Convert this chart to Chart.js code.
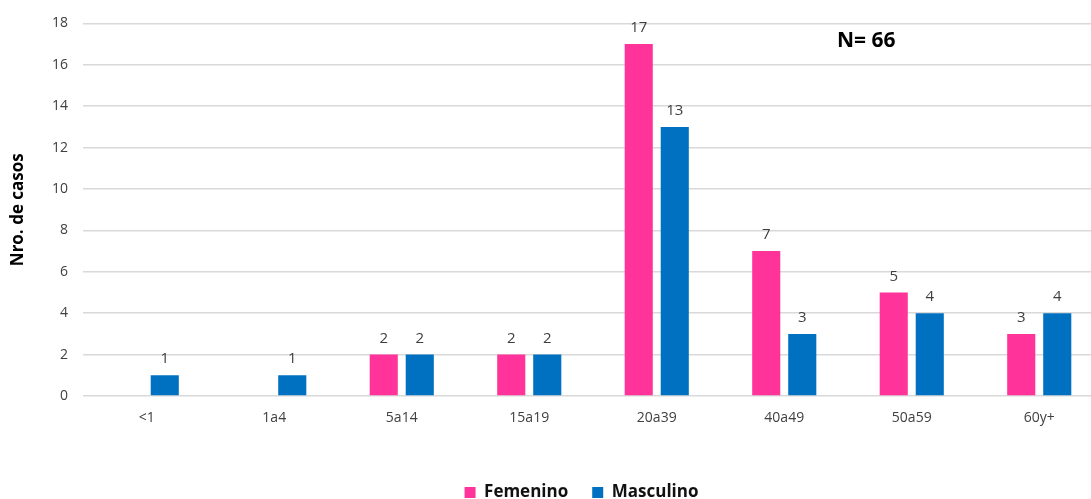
<!DOCTYPE html>
<html lang="es">
<head>
  <meta charset="UTF-8">
  <title>Casos por grupo de edad y sexo</title>
  <script src="https://cdn.jsdelivr.net/npm/chart.js"></script>
  <style>
    body { margin: 0; background: #fff; overflow: hidden; }
    #wrap { width: 1091px; height: 499px; overflow: hidden; }
  </style>
</head>
<body>
  <div id="wrap">
    <canvas id="chart" width="1162" height="499"></canvas>
  </div>
  <script>
    // datos
    const grupos = ['<1', '1a4', '5a14', '15a19', '20a39', '40a49', '50a59', '60y+'];
    const femenino = [0, 0, 2, 2, 17, 7, 5, 3];
    const masculino = [1, 1, 2, 2, 13, 3, 4, 4];
    const yTicks = [0, 2, 4, 6, 8, 10, 12, 14, 16, 18];
    const totalTexto = 'N= 66';

    const FONT = "'Open Sans', 'Noto Sans', sans-serif";

    // etiquetas de valor encima de cada barra + texto N
    const valueLabels = {
      id: 'valueLabels',
      afterLayout(chart) {
        // la leyenda del original esta centrada un poco mas a la derecha
        if (chart.legend) { chart.legend.left += 30; chart.legend.right += 30; }
      },
      afterDatasetsDraw(chart) {
        const ctx = chart.ctx;
        ctx.save();
        ctx.font = '15px ' + FONT;
        ctx.fillStyle = '#404040';
        ctx.textAlign = 'center';
        ctx.textBaseline = 'alphabetic';
        chart.data.datasets.forEach((ds, i) => {
          chart.getDatasetMeta(i).data.forEach((bar, j) => {
            if (!ds.data[j]) return;
            ctx.fillText(ds.data[j], bar.x, bar.y - 12);
          });
        });
        ctx.font = 'bold 21px ' + FONT;
        ctx.fillStyle = '#000';
        ctx.textAlign = 'left';
        ctx.textBaseline = 'middle';
        ctx.fillText(totalTexto, 837, 41);
        ctx.restore();
      }
    };

    new Chart(document.getElementById('chart'), {
      type: 'bar',
      data: {
        labels: grupos,
        datasets: [
          { label: 'Femenino', data: femenino, backgroundColor: '#FF3399' },
          { label: 'Masculino', data: masculino, backgroundColor: '#0070C0' }
        ]
      },
      options: {
        responsive: false,
        animation: false,
        layout: { padding: { top: 16, right: 59, bottom: -12, left: 0 } },
        datasets: { bar: { categoryPercentage: 0.565, barPercentage: 0.78 } },
        plugins: {
          legend: {
            position: 'bottom',
            labels: {
              boxWidth: 11, boxHeight: 11, padding: 24,
              color: '#111',
              font: { family: FONT, size: 17, weight: 'bold' }
            }
          },
          tooltip: { enabled: false }
        },
        scales: {
          x: {
            grid: { display: false },
            border: { display: false },
            ticks: { color: '#404040', padding: 6, font: { family: FONT, size: 14 } },
            afterFit(scale) { scale.height = 64; }
          },
          y: {
            min: 0, max: 18,
            afterBuildTicks(scale) { scale.ticks = yTicks.map(v => ({ value: v })); },
            grid: { color: '#d9d9d9', lineWidth: 1.5, drawTicks: false },
            border: { display: false },
            ticks: { color: '#404040', padding: 15, font: { family: FONT, size: 14 } },
            title: {
              display: true, text: 'Nro. de casos', color: '#000',
              font: { family: FONT, size: 17, weight: 'bold' },
              padding: { top: 8, bottom: 0 }
            },
            afterFit(scale) { scale.width = 83; }
          }
        }
      },
      plugins: [valueLabels]
    });
  </script>
</body>
</html>
